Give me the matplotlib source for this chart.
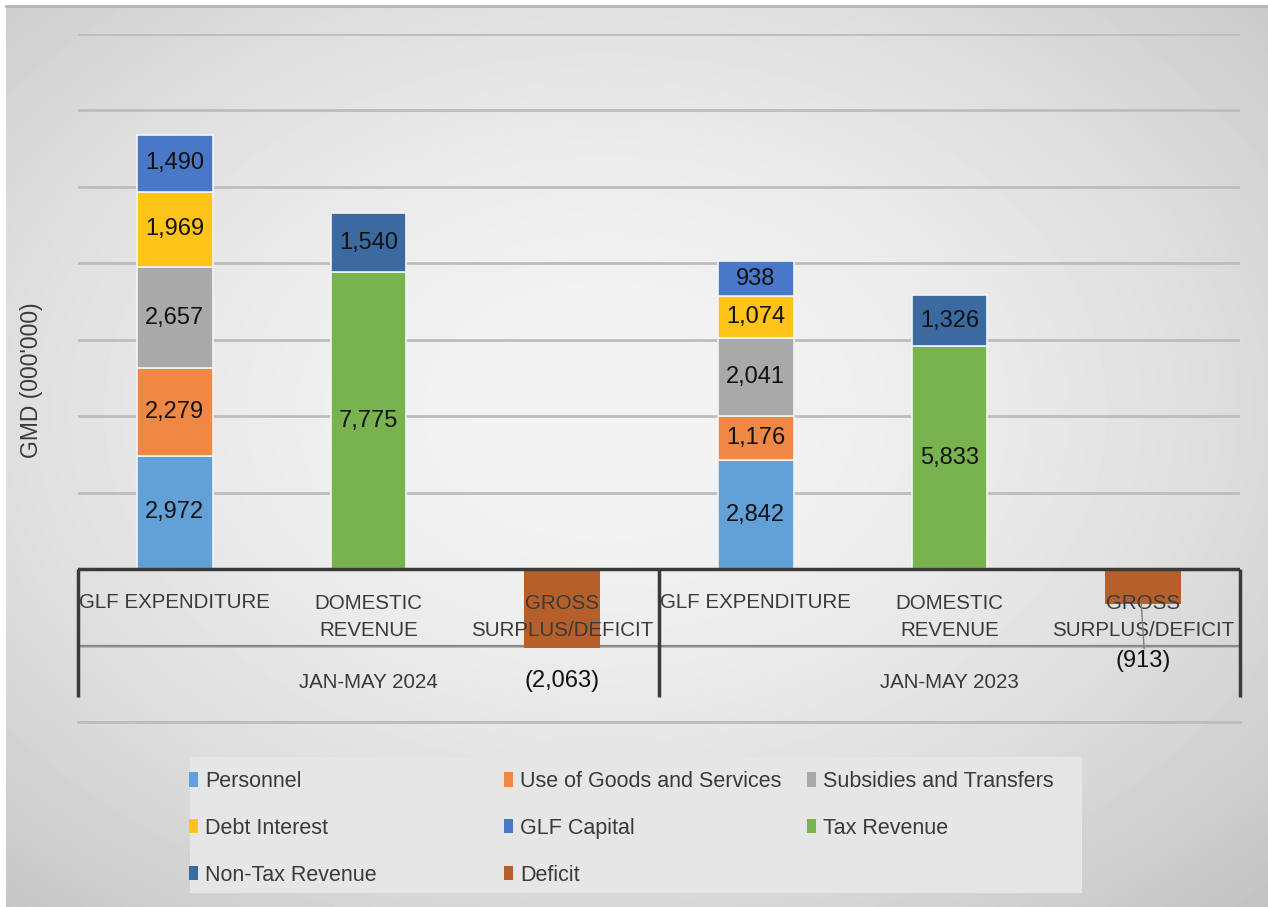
import numpy as np
import matplotlib
matplotlib.use("Agg")
import matplotlib.pyplot as plt
from matplotlib.patches import Patch, Rectangle

# ---------------- data ----------------
groups = ["JAN-MAY 2024", "JAN-MAY 2023"]
categories = ["GLF EXPENDITURE", "DOMESTIC\nREVENUE", "GROSS\nSURPLUS/DEFICIT"]

personnel = [2972, 2842]
goods_services = [2279, 1176]
subsidies = [2657, 2041]
debt_interest = [1969, 1074]
glf_capital = [1490, 938]
tax_revenue = [7775, 5833]
non_tax_revenue = [1540, 1326]
deficit = [-2063, -913]

colors = {
    "Personnel": "#62a0d8",
    "Use of Goods and Services": "#ef8844",
    "Subsidies and Transfers": "#a9a9a9",
    "Debt Interest": "#fec41a",
    "GLF Capital": "#4a78c8",
    "Tax Revenue": "#78b350",
    "Non-Tax Revenue": "#3a6aa0",
    "Deficit": "#b5602a",
}

FONT = ["Liberation Sans", "DejaVu Sans"]
TXT = "#3a3a3a"

W, H = 1268, 907
fig = plt.figure(figsize=(W / 100, H / 100), dpi=100)
fig.patch.set_facecolor("white")

# ---------------- background gradient ----------------
bg = fig.add_axes([6 / W, 0, 1 - 6 / W, 1 - 6 / H], zorder=-10)
nx, ny = np.meshgrid(np.linspace(-1, 1, 400), np.linspace(-1, 1, 300))
r = np.sqrt((nx + 0.05) ** 2 + (ny + 0.1) ** 2) / np.sqrt(2)
val = 0.955 - 0.17 * r ** 1.8
bg.imshow(val, cmap="gray", vmin=0, vmax=1, aspect="auto", extent=[0, 1, 0, 1], interpolation="bilinear")
bg.set_axis_off()
fig.add_artist(plt.Line2D([6 / W, 1], [1 - 6 / H, 1 - 6 / H], color="#b5b5b5", lw=2, transform=fig.transFigure))

# legend box
fig.add_artist(Rectangle((190 / W, 1 - 893 / H), (1082 - 190) / W, (893 - 757) / H,
                         transform=fig.transFigure, facecolor="#e6e6e6", edgecolor="none", zorder=-5))

# ---------------- main axes ----------------
ax = fig.add_axes([78 / W, 1 - 722 / H, (1240 - 78) / W, (722 - 34) / H])
ax.set_facecolor("none")
ax.set_xlim(-0.5, 5.5)
ax.set_ylim(-4000, 14000)
ax.set_yticks(np.arange(-4000, 14001, 2000))
ax.tick_params(left=False, bottom=False, labelleft=False, labelbottom=False)
ax.grid(axis="y", color="#bdbdbd", lw=2)
ax.set_axisbelow(True)
ax.axhline(-4000, color="#bdbdbd", lw=2, clip_on=False, zorder=1)
for s in ax.spines.values():
    s.set_visible(False)

bw = 0.39
edge = dict(edgecolor="#f4f4f4", linewidth=1.2)
xt = ax.get_xaxis_transform()
LBL = dict(ha="center", va="center", fontsize=17, family=FONT, color="#111111", zorder=5)

for gi in range(len(groups)):
    base = gi * 3
    bottom = 0
    for name, vals in [("Personnel", personnel), ("Use of Goods and Services", goods_services),
                       ("Subsidies and Transfers", subsidies), ("Debt Interest", debt_interest),
                       ("GLF Capital", glf_capital)]:
        v = vals[gi]
        ax.bar(base, v, bw, bottom=bottom, color=colors[name], zorder=3, **edge)
        ax.text(base, bottom + v / 2, f"{v:,}", **LBL)
        bottom += v
    bottom = 0
    for name, vals in [("Tax Revenue", tax_revenue), ("Non-Tax Revenue", non_tax_revenue)]:
        v = vals[gi]
        ax.bar(base + 1, v, bw, bottom=bottom, color=colors[name], zorder=3, **edge)
        ax.text(base + 1, bottom + v / 2, f"{v:,}", **LBL)
        bottom += v
    ax.bar(base + 2, deficit[gi], bw, color=colors["Deficit"], zorder=3, edgecolor="none")

# deficit labels (moved below the bars as in the source)
ax.text(2, -2930, f"({abs(deficit[0]):,})", **{**LBL, "zorder": 8})
ax.text(5, -2410, f"({abs(deficit[1]):,})", **{**LBL, "zorder": 8})
ax.plot([4.99, 5.005], [deficit[1], -2080], color="#7f7f7f", lw=1, zorder=8)

# ---------------- multi-level category axis ----------------
ax.axhline(0, color="#3a3a3a", lw=2.5, zorder=4)
ax.axhline(-2000, color="#8a8a8a", lw=1.6, zorder=2)
for xv in [-0.5, 2.5, 5.5]:
    ax.plot([xv, xv], [0.0363, (722 - 569) / 688], transform=xt, color="#3a3a3a", lw=2.5,
            clip_on=False, zorder=4, solid_capstyle="butt")

CAT = dict(transform=xt, ha="center", va="center", fontsize=14.8, family=FONT, color=TXT, zorder=7)
for gi, g in enumerate(groups):
    for ci, c in enumerate(categories):
        x = gi * 3 + ci
        if "\n" in c:
            ax.text(x, 0.1526, c, linespacing=1.5, **CAT)
        else:
            ax.text(x, 0.1744, c, **CAT)
    ax.text(gi * 3 + 1, 0.0567, g, **CAT)

fig.text(32 / W, 1 - 380 / H, "GMD (000'000)", rotation=90, ha="center", va="center",
         fontsize=16.5, family=FONT, color=TXT)

# ---------------- legend (three columns like the source) ----------------
col_items = [["Personnel", "Debt Interest", "Non-Tax Revenue"],
             ["Use of Goods and Services", "GLF Capital", "Deficit"],
             ["Subsidies and Transfers", "Tax Revenue"]]
col_x = [189, 504, 807]
for items, cx in zip(col_items, col_x):
    handles = [Patch(facecolor=colors[n], edgecolor="none", label=n) for n in items]
    fig.legend(handles=handles, loc="upper left", bbox_to_anchor=(cx / W, 1 - 771 / H),
               frameon=False, prop={"family": FONT, "size": 15.5}, labelcolor=TXT,
               handlelength=0.4, handleheight=0.65, handletextpad=0.35, labelspacing=1.2,
               borderpad=0, borderaxespad=0)

fig.savefig("out.png", dpi=100, facecolor=fig.get_facecolor())
